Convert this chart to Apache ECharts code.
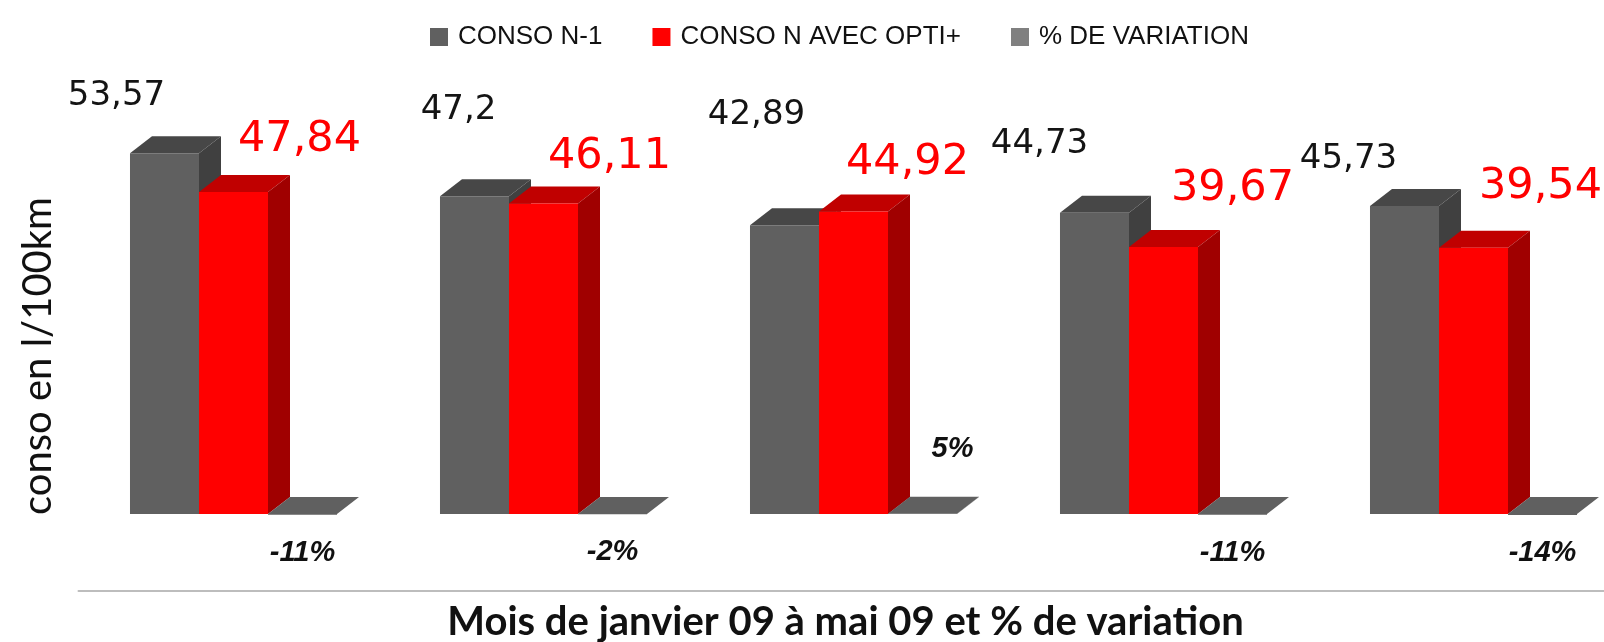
<!DOCTYPE html>
<html>
<head>
<meta charset="utf-8">
<script src="https://cdn.jsdelivr.net/npm/echarts@6/dist/echarts.min.js"></script>
<style>
html, body { margin: 0; padding: 0; background: #fff; }
#chart { width: 1604px; height: 642px; }
</style>
</head>
<body>
<div id="chart"></div>
<script>
// donnees
var months = ['janvier', 'février', 'mars', 'avril', 'mai'];
var consoN1 = [53.57, 47.2, 42.89, 44.73, 45.73];
var consoN = [47.84, 46.11, 44.92, 39.67, 39.54];
var variation = [-0.11, -0.02, 0.05, -0.11, -0.14];

// decalage des etiquettes (placees a la main dans l'original)
var n1LabelShift = [[-48, -57], [-16, -86], [-28, -110], [-55, -69], [-56, -47]];
var nLabelShift = [[66, -52], [66, -47], [54, -49], [69, -58], [67, -61]];
var varLabelShift = [[0, 38], [0, 38], [30, -65], [0, 38], [0, 38]];

var DX = 22, DY = -17;

function box(x0, w, yTop, yBase, c) {
    var t = Math.min(yTop, yBase);
    return [
        {type: 'polygon', shape: {points: [[x0, t], [x0 + DX, t + DY], [x0 + w + DX, t + DY], [x0 + w, t]]}, style: {fill: c.top}},
        {type: 'polygon', shape: {points: [[x0 + w, t], [x0 + w + DX, t + DY], [x0 + w + DX, yBase + DY], [x0 + w, yBase]]}, style: {fill: c.side}},
        {type: 'rect', shape: {x: x0, y: t, width: w, height: Math.abs(yBase - yTop)}, style: {fill: c.front}}
    ];
}

function bar3d(name, values, slot, c, shift, font, fmt) {
    return {
        name: name,
        type: 'custom',
        itemStyle: {color: c.legend},
        data: values.map(function (v, i) { return [i, v]; }),
        renderItem: function (params, api) {
            var i = params.dataIndex;
            var base = api.coord([api.value(0), 0]);
            var top = api.coord([api.value(0), api.value(1)]);
            var w = api.size([1, 0])[0] * 0.2226;
            var x0 = base[0] + (slot - 1.5) * w;
            var kids = box(x0, w, top[1], base[1], c);
            kids.push({
                type: 'text',
                x: x0 + w / 2 + shift[i][0],
                y: top[1] + shift[i][1],
                style: {
                    text: fmt(api.value(1)),
                    fill: font.color,
                    fontFamily: font.family,
                    fontSize: font.size,
                    fontWeight: font.weight || 'normal',
                    fontStyle: font.style || 'normal',
                    align: 'center',
                    verticalAlign: 'middle'
                }
            });
            return {type: 'group', children: kids};
        }
    };
}

function virgule(v) { return String(v).replace('.', ','); }
function pct(v) { return Math.round(v * 100) + '%'; }

var chart = echarts.init(document.getElementById('chart'));
var option = {
    animation: false,
    legend: {
        left: 425,
        top: 19,
        icon: 'rect',
        itemWidth: 18,
        itemHeight: 18,
        itemGap: 50,
        textStyle: {fontFamily: 'Liberation Sans', fontSize: 26, color: '#111', padding: [0, 0, 0, 5]},
        data: ['CONSO N-1', 'CONSO N AVEC OPTI+', '% DE VARIATION']
    },
    grid: {left: 78.5, width: 1550, top: 110, bottom: 128, outerBoundsMode: 'none'},
    xAxis: {
        type: 'category',
        data: months,
        offset: 77,
        axisLabel: {show: false},
        axisTick: {show: false},
        axisLine: {show: true, onZero: false, lineStyle: {color: '#bdbdbd', width: 2}},
        name: 'Mois de janvier 09 à mai 09 et % de variation',
        nameLocation: 'middle',
        nameGap: 11,
        nameTextStyle: {fontFamily: 'Lato', fontWeight: 'bold', fontSize: 40, color: '#111', padding: [0, 16, 0, 0]}
    },
    yAxis: {type: 'value', min: 0, max: 60, show: false},
    graphic: [{
        type: 'text',
        x: 38,
        y: 356,
        rotation: Math.PI / 2,
        style: {text: 'conso en l/100km', fontFamily: 'Lato', fontSize: 40, fill: '#111', align: 'center', verticalAlign: 'middle'}
    }],
    series: [
        bar3d('CONSO N-1', consoN1, 0,
            {front: '#606060', top: '#474747', side: '#404040', legend: '#606060'},
            n1LabelShift, {family: 'DejaVu Sans', size: 34, color: '#141414'}, virgule),
        bar3d('CONSO N AVEC OPTI+', consoN, 1,
            {front: '#ff0000', top: '#c00000', side: '#a00000', legend: '#ff0000'},
            nLabelShift, {family: 'DejaVu Sans', size: 43, color: '#ff0000'}, virgule),
        bar3d('% DE VARIATION', variation, 2,
            {front: '#606060', top: '#606060', side: '#555555', legend: '#808080'},
            varLabelShift, {family: 'Liberation Sans', size: 29, color: '#111', weight: 'bold', style: 'italic'}, pct)
    ]
};
chart.setOption(option);
</script>
</body>
</html>
